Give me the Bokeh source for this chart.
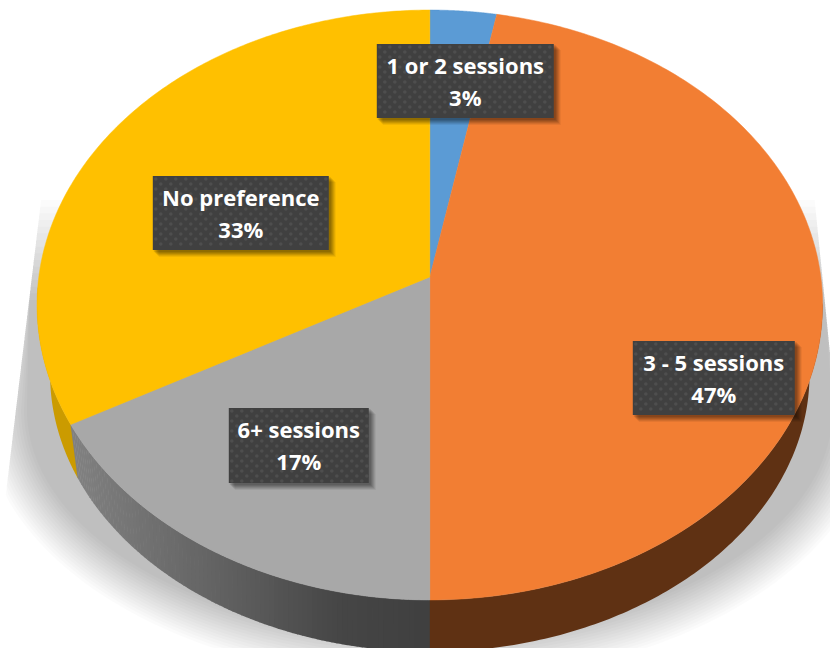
import numpy as np
from bokeh.plotting import figure
from bokeh.models import Range1d
from bokeh.embed import file_html
from bokeh.resources import INLINE
from bokeh.core.properties import value

categories = ["1 or 2 sessions", "3 - 5 sessions", "6+ sessions", "No preference"]
shares = [3, 47, 17, 33]
face_colors = ["#5B9BD5", "#F27E33", "#A8A8A8", "#FFC000"]
side_colors = ["#3A5E80", "#5F3113", "#808080", "#CB9B00"]
label_boxes = [(377, 554, 44, 118), (633, 795, 341, 415), (229, 369, 408, 483), (153, 329, 176, 250)]

p = figure(width=830, height=648, x_range=Range1d(0.7, 830.7), y_range=Range1d(648.5, 0.5),
           toolbar_location=None, output_backend="svg", min_border=0,
           outline_line_color=None, background_fill_color="white")
p.axis.visible = False
p.grid.visible = False


def rim(theta, cx, apex_y, a, b, k):
    """Perspective projection of a circle; theta runs clockwise from the far side."""
    x, v = np.sin(theta), -np.cos(theta)
    w = 1 - k * v
    return cx + a * x / w, apex_y + b * v / w


TOP = dict(cx=430, apex_y=277, a=391, b=292.3, k=0.0949)
BOT = dict(cx=430, apex_y=338, a=376.5, b=273, k=0.13)


def shadow_left(y):
    return 22 + (360 - y) * 0.12


def shadow_right(y):
    return 821 + (y - 260) * 0.1


# soft ground shadow: sharp sides, blurred lower edge, fading upper end
n_layers = 16
alpha = 1 - 0.8 ** (1 / n_layers)
for d, y_top in zip(np.linspace(-22, 22, n_layers), np.linspace(300, 200, n_layers)):
    t = np.linspace(np.pi, 0, 120)
    ey = 410 + (250 + d) * np.sin(t)
    ex = 430 + (425 + d) * np.cos(t)
    ex = np.minimum(np.maximum(ex, shadow_left(ey)), shadow_right(ey))
    sx = np.r_[shadow_left(y_top), ex, shadow_right(y_top)]
    sy = np.r_[y_top, ey, y_top]
    p.patch(sx, sy, fill_color="black", fill_alpha=alpha, line_color=None)

# slice angles
edges = np.r_[0, np.cumsum(shares)] / np.sum(shares) * 2 * np.pi
side_start, side_end = np.radians(95), np.radians(268)
overlap = 0.004

# sides, only along the near half of the rim; they run slightly under the grey side to avoid seams
for i, col in enumerate(side_colors):
    if categories[i] == "6+ sessions":
        continue
    lo, hi = max(edges[i] - overlap, side_start), min(edges[i + 1] + overlap, side_end)
    if hi <= lo:
        continue
    t = np.linspace(lo, hi, 120)
    tx, ty = rim(t, **TOP)
    bx, by = rim(t[::-1], **BOT)
    p.patch(np.r_[tx, bx], np.r_[ty, by], fill_color=col, line_color=None)

# gradient side of the grey slice
g_i = categories.index("6+ sessions")
steps = np.linspace(edges[g_i], edges[g_i + 1], 90)
for t0, t1 in zip(steps[:-1], steps[1:]):
    tt = np.array([t0, t1 + 0.002])
    tx, ty = rim(tt, **TOP)
    bx, by = rim(tt[::-1], **BOT)
    g = int(np.interp(tx.mean(), [78, 220, 340, 430], [128, 98, 70, 64]))
    c = f"#{g:02x}{g:02x}{g:02x}"
    p.patch(np.r_[tx, bx], np.r_[ty, by], fill_color=c, line_color=None)

# top faces
for i, col in enumerate(face_colors):
    t = np.linspace(edges[i], edges[i + 1], 200)
    tx, ty = rim(t, **TOP)
    p.patch(np.r_[TOP["cx"], tx], np.r_[TOP["apex_y"], ty], fill_color=col, line_color=col, line_width=0.5)

# labels
for (x0, x1, y0, y1), cat, val in zip(label_boxes, categories, shares):
    for off, a in zip([2, 3, 4, 5, 6, 7], [0.10, 0.10, 0.10, 0.09, 0.08, 0.06]):
        p.quad(left=[x0 + off - 1], right=[x1 + off], top=[y0 + off - 1], bottom=[y1 + off],
               fill_color="black", fill_alpha=a, line_color=None)
    p.quad(left=[x0], right=[x1], top=[y0], bottom=[y1], fill_color="#404040", line_color=None)
    gx, gy = [], []
    for r, yy in enumerate(np.arange(y0 + 3, y1 - 1, 5.0)):
        for xx in np.arange(x0 + 3 + (5 if r % 2 else 0), x1 - 1, 10.0):
            gx.append(xx)
            gy.append(yy)
    p.scatter(gx, gy, size=3.6, marker="circle", fill_color="#4E4E4E", line_color=None)
    xm = (x0 + x1) / 2
    for txt, ym in [(cat, y0 + 20.5), (f"{val}%", y0 + 53)]:
        p.text([xm], [ym], text=[txt], text_color="white", text_align="center",
               text_baseline="middle", text_font=value("Open Sans"),
               text_font_size="22px", text_font_style="bold")

open("out.html", "w").write(file_html(p, INLINE))
